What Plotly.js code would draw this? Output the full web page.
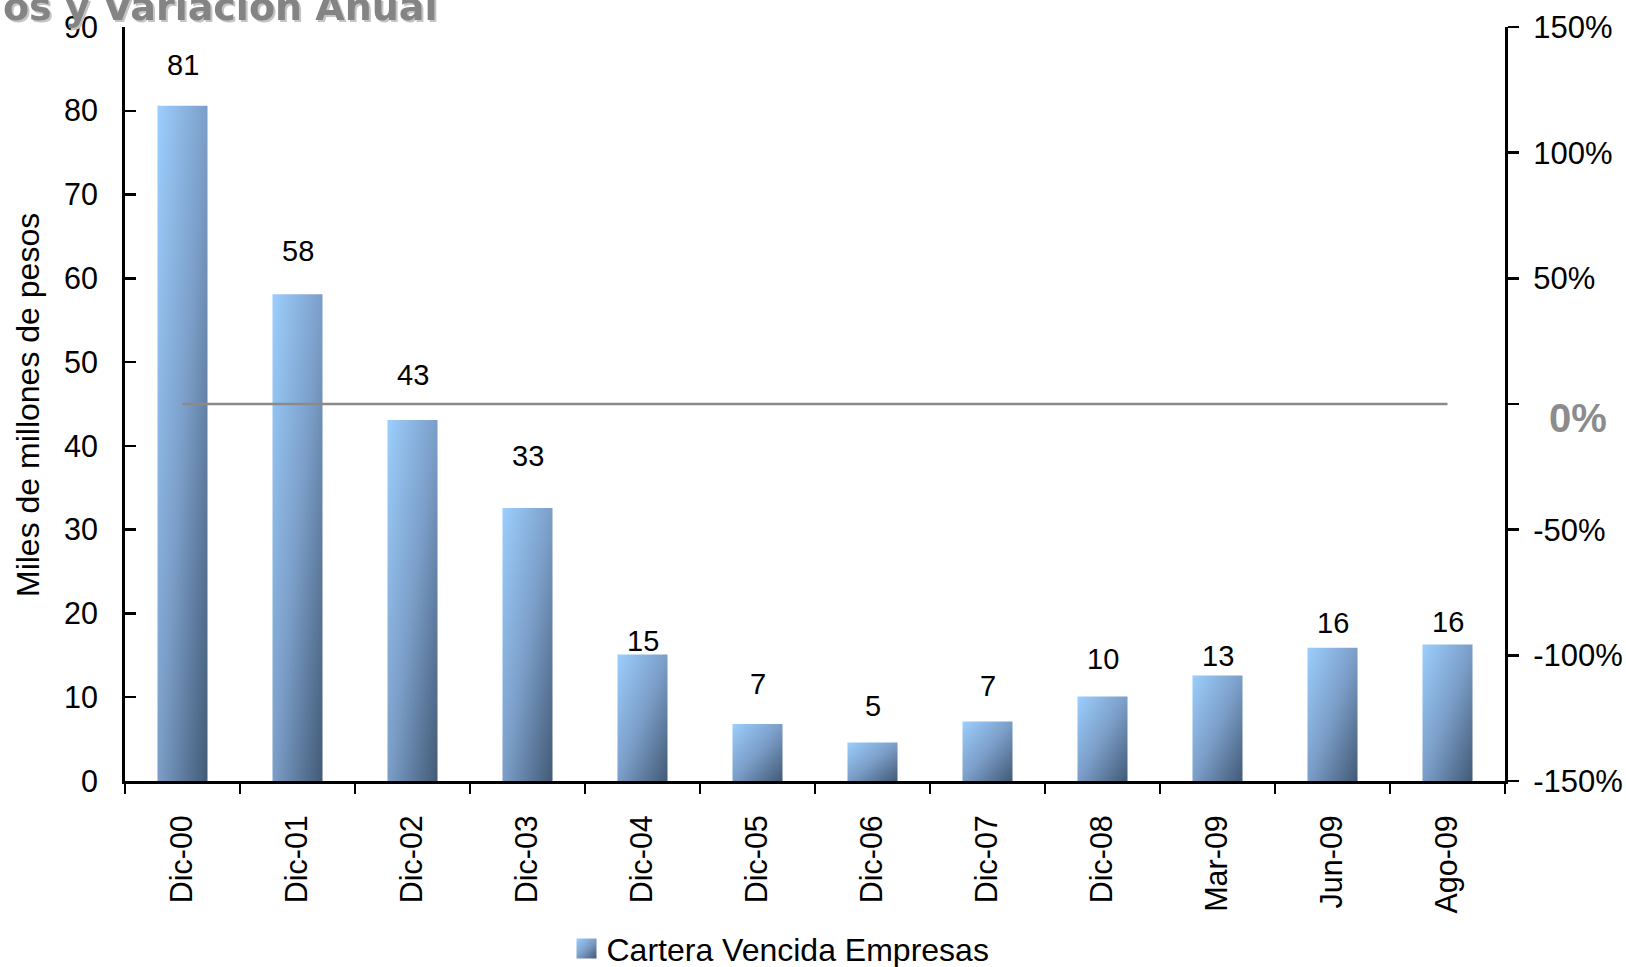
<!DOCTYPE html>
<html>
<head>
<meta charset="utf-8">
<script src="https://cdn.plot.ly/plotly-3.0.1.min.js"></script>
<style>
  html, body { margin: 0; padding: 0; background: #ffffff; }
  #chart { width: 1626px; height: 967px; }
</style>
</head>
<body>
<svg width="0" height="0" style="position:absolute">
  <defs>
    <linearGradient id="barGrad" x1="0" y1="0" x2="1" y2="1">
      <stop offset="0" stop-color="#9ccefd"/>
      <stop offset="0.5" stop-color="#7b9ec8"/>
      <stop offset="1" stop-color="#425a76"/>
    </linearGradient>
  </defs>
</svg>
<div id="chart"></div>
<script>
// ---- data ----
const categories = ['Dic-00', 'Dic-01', 'Dic-02', 'Dic-03', 'Dic-04', 'Dic-05', 'Dic-06', 'Dic-07', 'Dic-08', 'Mar-09', 'Jun-09', 'Ago-09'];
const carteraVencida = [80.6, 58.1, 43.1, 32.6, 15.1, 6.8, 4.6, 7.1, 10.1, 12.6, 15.9, 16.3];
const barLabels = ['81', '58', '43', '33', '15', '7', '5', '7', '10', '13', '16', '16'];
const variacionAnual = [0, 0, 0, 0, 0, 0, 0, 0, 0, 0, 0, 0];
const leftTicks = [0, 10, 20, 30, 40, 50, 60, 70, 80, 90];
const pctTickVals = [-1.5, -1.0, -0.5, 0, 0.5, 1.0, 1.5];
const pctTickText = ['-150%', '-100%', '-50%', '', '50%', '100%', '150%'];
const seriesName = 'Cartera Vencida Empresas';
const yTitle = 'Miles de millones de pesos';
const chartTitle = 'os y Variación Anual';
const zeroLabel = '0%';

// ---- styles (label offsets in px above bar top) ----
const labelShift = [41, 43, 45, 52, 14, 40, 36, 36, 37, 19, 25, 22];

const FONT = '"Liberation Sans", Arial, sans-serif';

const traces = [
  {
    type: 'bar',
    name: seriesName,
    x: categories,
    y: carteraVencida,
    xaxis: 'x',
    yaxis: 'y',
    marker: { color: '#7a9dc7', line: { width: 0 } },
    hoverinfo: 'skip',
    showlegend: true
  },
  {
    type: 'scatter',
    mode: 'lines',
    name: 'Variación Anual',
    x: categories,
    y: variacionAnual,
    xaxis: 'x',
    yaxis: 'y2',
    line: { color: '#8a8a8a', width: 2.5 },
    hoverinfo: 'skip',
    showlegend: false
  }
];

const annotations = categories.map((c, i) => ({
  x: c, y: carteraVencida[i], xref: 'x', yref: 'y',
  text: barLabels[i], showarrow: false,
  yanchor: 'middle', yshift: labelShift[i],
  font: { family: FONT, size: 29, color: '#000000' }
}));
annotations.push({
  xref: 'paper', yref: 'paper', x: 0.2275, y: 1,
  xanchor: 'right', yanchor: 'middle', yshift: 20.5,
  text: '<b>' + chartTitle + '</b>', showarrow: false,
  font: { family: '"DejaVu Sans", Verdana, sans-serif', size: 38, color: '#848484' }
});
annotations.push({
  xref: 'paper', yref: 'y2', x: 1, y: 0,
  xanchor: 'left', yanchor: 'middle', xshift: 42, yshift: -14,
  text: '<b>' + zeroLabel + '</b>', showarrow: false,
  font: { family: FONT, size: 40, color: '#8c8c8c' }
});
// y-axis title, placed as rotated annotation
annotations.push({
  xref: 'paper', yref: 'paper', x: 0, y: 0.5,
  xanchor: 'center', yanchor: 'middle', xshift: -97, yshift: -1,
  textangle: -90, text: yTitle, showarrow: false,
  font: { family: FONT, size: 32, color: '#000000' }
});

const layout = {
  width: 1626, height: 967,
  margin: { l: 125, r: 121, t: 27, b: 186, pad: 0, autoexpand: false },
  paper_bgcolor: '#ffffff', plot_bgcolor: '#ffffff',
  font: { family: FONT, size: 30, color: '#000000' },
  bargap: 0.565,
  showlegend: true,
  legend: {
    orientation: 'h', xref: 'container', yref: 'container',
    x: 0.3484, xanchor: 'left', y: 0.019, yanchor: 'middle',
    font: { family: FONT, size: 32, color: '#000000' },
    bgcolor: 'rgba(0,0,0,0)'
  },
  xaxis: {
    type: 'category', categoryarray: categories, range: [-0.5, 11.5],
    tickson: 'boundaries', ticks: 'outside', ticklen: 10, tickwidth: 2.5, tickcolor: '#000000',
    showline: true, linewidth: 3, linecolor: '#000000',
    tickangle: -90, tickfont: { family: FONT, size: 30.5, color: '#000000' },
    ticklabelstandoff: 19,
    showgrid: false, zeroline: false, fixedrange: true
  },
  xaxis2: {
    overlaying: 'x', anchor: 'y', range: [-0.5, 11.5], tick0: -0.5, dtick: 1,
    ticks: 'inside', ticklen: 10, tickwidth: 2.5, tickcolor: '#000000',
    showticklabels: false, showline: false, showgrid: false, zeroline: false
  },
  yaxis: {
    range: [0, 90], tickvals: leftTicks,
    ticks: 'inside', ticklen: 11, tickwidth: 2.5, tickcolor: '#000000',
    showline: true, linewidth: 3, linecolor: '#000000',
    tickfont: { family: FONT, size: 30.5, color: '#000000' },
    ticklabelstandoff: 18,
    showgrid: false, zeroline: false
  },
  yaxis3: {
    overlaying: 'y', side: 'left', anchor: 'x', range: [0, 90], tickvals: leftTicks,
    ticks: 'outside', ticklen: 11, tickwidth: 2.5, tickcolor: '#000000',
    showticklabels: false, showline: false, showgrid: false, zeroline: false
  },
  yaxis2: {
    overlaying: 'y', side: 'right', anchor: 'x', range: [-1.5, 1.5],
    tickvals: pctTickVals, ticktext: pctTickText,
    ticks: 'outside', ticklen: 11, tickwidth: 2.5, tickcolor: '#000000',
    showline: true, linewidth: 3, linecolor: '#000000',
    tickfont: { family: FONT, size: 31, color: '#000000' },
    ticklabelstandoff: 8,
    showgrid: false, zeroline: false
  },
  annotations: annotations
};

Plotly.newPlot('chart', traces, layout, { staticPlot: true, displayModeBar: false }).then(gd => {
  gd.querySelectorAll('.bars .point path').forEach(p => { p.style.fill = 'url(#barGrad)'; });
  gd.querySelectorAll('.legend .legendpoints path').forEach(p => {
    p.setAttribute('d', 'M10,10H-10V-10H10Z');
    p.style.fill = 'url(#barGrad)';
    p.style.stroke = 'none';
  });
  gd.querySelectorAll('.annotation-text').forEach(t => {
    if (t.textContent === chartTitle) {
      t.style.filter = 'drop-shadow(2px 2px 0px #c4c4c4)';
    }
  });
});
</script>
</body>
</html>
